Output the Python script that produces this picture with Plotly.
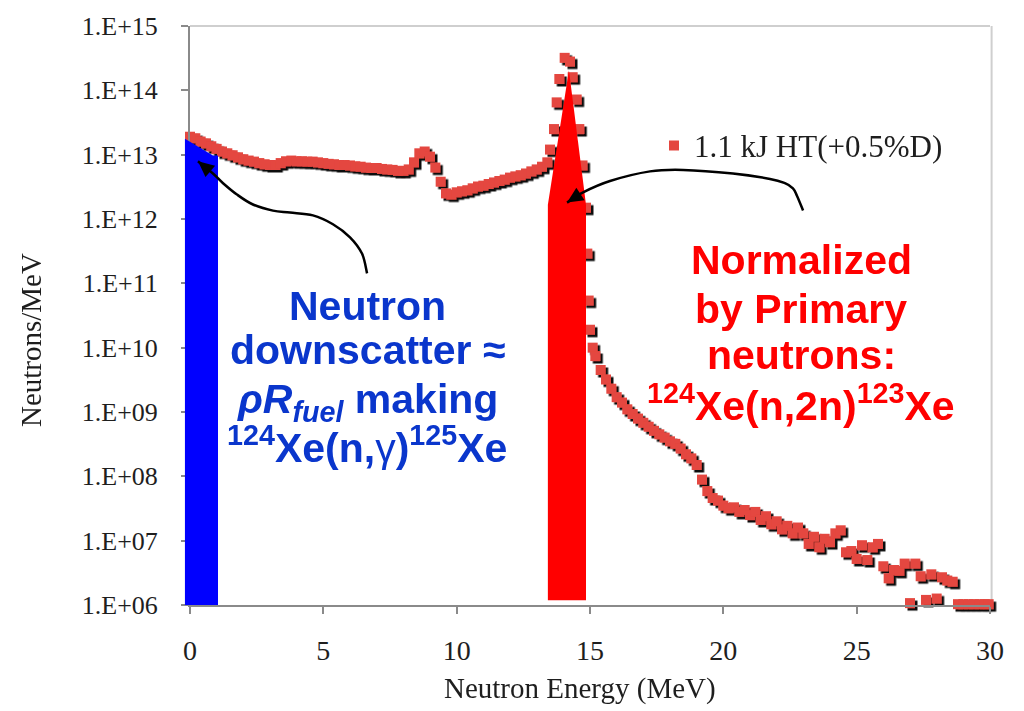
import math
import plotly.graph_objects as go

# Neutron spectrum, 1.1 kJ HT shot with 0.5% D
energy_mev = [
    0.0, 0.2, 0.4, 0.6, 0.8, 1.0, 1.2, 1.4, 1.6, 1.8,
    2.0, 2.2, 2.4, 2.6, 2.8, 3.0, 3.2, 3.4, 3.6, 3.8,
    4.0, 4.2, 4.4, 4.6, 4.8, 5.0, 5.2, 5.4, 5.6, 5.8,
    6.0, 6.2, 6.4, 6.6, 6.8, 7.0, 7.2, 7.4, 7.6, 7.8,
    8.0, 8.2, 8.4, 8.6, 8.8, 9.0, 9.2, 9.4, 9.6, 9.8,
    10.0, 10.2, 10.4, 10.6, 10.8, 11.0, 11.2, 11.4, 11.6, 11.8,
    12.0, 12.2, 12.4, 12.6, 12.8, 13.0, 13.2, 13.4,
    13.5, 13.65, 13.75, 13.85, 14.05, 14.25, 14.35, 14.5, 14.6, 14.72,
    14.85, 14.9, 14.95, 15.0, 15.1,
    15.2, 15.4, 15.6, 15.8, 16.0, 16.2, 16.4, 16.6, 16.8, 17.0,
    17.2, 17.4, 17.6, 17.8, 18.0, 18.2, 18.4, 18.6, 18.8, 19.0,
    19.2, 19.4, 19.6, 19.8, 20.0, 20.2, 20.4, 20.6, 20.8, 21.0,
    21.2, 21.4, 21.6, 21.8, 22.0, 22.2, 22.4, 22.6, 22.8, 23.0,
    23.2, 23.4, 23.6, 23.8, 24.0, 24.2, 24.4, 24.6, 24.8, 25.0,
    25.2, 25.4, 25.6, 25.8, 26.0, 26.2, 26.4, 26.6, 26.8, 27.0,
    27.2, 27.4, 27.6, 27.8, 28.0, 28.2, 28.4, 28.6, 28.8, 29.0,
    29.2, 29.4, 29.6, 29.8, 29.95,
]

neutrons_per_mev = [
    1.9e13, 1.8e13, 1.6e13, 1.5e13, 1.35e13, 1.23e13, 1.12e13, 1.05e13, 9.8e12, 9.1e12,
    8.5e12, 8.1e12, 7.8e12, 7.4e12, 7.1e12, 6.9e12, 6.9e12, 7.4e12, 7.9e12, 8.1e12,
    7.9e12, 7.9e12, 7.8e12, 7.8e12, 7.6e12, 7.4e12, 7.2e12, 7.1e12, 6.9e12, 6.9e12,
    6.8e12, 6.6e12, 6.5e12, 6.3e12, 6.2e12, 6.2e12, 6.0e12, 5.9e12, 5.8e12, 5.6e12,
    5.6e12, 5.9e12, 7.6e12, 1.05e13, 1.12e13, 9.3e12, 6.3e12, 3.8e12, 2.5e12, 2.4e12,
    2.6e12, 2.7e12, 2.8e12, 3.0e12, 3.2e12, 3.3e12, 3.5e12, 3.7e12, 3.9e12, 4.1e12,
    4.4e12, 4.6e12, 4.8e12, 5.1e12, 5.5e12, 5.9e12, 6.5e12, 7.6e12,
    1.2e13, 2.5e13, 6.5e13, 1.5e14, 3.2e14, 2.8e14, 1.6e14, 7.2e13, 2.5e13, 6.8e12,
    1.5e12, 2.9e11, 5.4e10, 1.9e10, 1.0e10,
    7.4e9, 4.5e9, 3.2e9, 2.3e9, 1.7e9, 1.4e9, 1.1e9, 9.3e8, 7.9e8, 6.8e8,
    5.9e8, 5.1e8, 4.5e8, 4.0e8, 3.5e8, 3.2e8, 2.7e8, 2.2e8, 1.9e8, 1.5e8,
    8.9e7, 5.9e7, 4.6e7, 4.2e7, 3.5e7, 3.2e7, 3.3e7, 2.8e7, 3.0e7, 2.5e7,
    2.8e7, 2.1e7, 2.4e7, 1.8e7, 2.0e7, 1.5e7, 1.7e7, 1.3e7, 1.6e7, 1.3e7,
    8.9e6, 1.15e7, 7.9e6, 1.07e7, 9.5e6, 1.3e7, 1.45e7, 6.6e6, 6.9e6, 5.2e6,
    8.5e6, 5.0e6, 7.9e6, 8.9e6, 4.0e6, 2.6e6, 3.5e6, 3.4e6, 4.4e6, 1.07e6,
    4.4e6, 2.8e6, 1.2e6, 3.0e6, 1.26e6, 2.7e6, 2.4e6, 2.3e6, 1.03e6, 1.03e6,
    1.03e6, 1.03e6, 1.03e6, 1.03e6, 1.03e6,
]

series_name = "1.1 kJ HT(+0.5%D)"

x_ticks = [0, 5, 10, 15, 20, 25, 30]
y_ticks = [1e6, 1e7, 1e8, 1e9, 1e10, 1e11, 1e12, 1e13, 1e14, 1e15]
y_tick_text = ["1.E+06", "1.E+07", "1.E+08", "1.E+09", "1.E+10",
               "1.E+11", "1.E+12", "1.E+13", "1.E+14", "1.E+15"]

X_RANGE = (0.0, 30.0)
LOG_Y_RANGE = (6.0, 15.0)

W, H = 1024, 711
M_L, M_R, M_T, M_B = 190, 34, 15, 106
PLOT_W, PLOT_H = W - M_L - M_R, H - M_T - M_B

SERIF = "Liberation Serif, Times New Roman, serif"
SANS = "Liberation Sans, Arial, sans-serif"
AXIS_GREY = "#8a8a8a"
TEXT_DARK = "#1e1e1e"
BLUE_TEXT = "#0a36cc"


def xp(mev):
    """Energy (MeV) -> paper x fraction."""
    return (mev - X_RANGE[0]) / (X_RANGE[1] - X_RANGE[0])


def yp(val):
    """Neutrons/MeV -> paper y fraction on the log axis."""
    return (math.log10(val) - LOG_Y_RANGE[0]) / (LOG_Y_RANGE[1] - LOG_Y_RANGE[0])


def polygon_path(pts):
    return "M " + " L ".join(f"{xp(x):.5f},{yp(y):.5f}" for x, y in pts) + " Z"


def curve_path(pts):
    # Catmull-Rom through the points, written as cubic Bezier segments
    P = [(xp(x), yp(y)) for x, y in pts]
    d = f"M {P[0][0]:.5f},{P[0][1]:.5f}"
    for i in range(len(P) - 1):
        p0 = P[i - 1] if i > 0 else P[i]
        p1, p2 = P[i], P[i + 1]
        p3 = P[i + 2] if i + 2 < len(P) else P[i + 1]
        c1 = (p1[0] + (p2[0] - p0[0]) / 6, p1[1] + (p2[1] - p0[1]) / 6)
        c2 = (p2[0] - (p3[0] - p1[0]) / 6, p2[1] - (p3[1] - p1[1]) / 6)
        d += f" C {c1[0]:.5f},{c1[1]:.5f} {c2[0]:.5f},{c2[1]:.5f} {p2[0]:.5f},{p2[1]:.5f}"
    return d


def head_path(tip, prev, length=16, half_width=7.5):
    # filled triangular arrowhead, sized in pixels, pointing from prev to tip
    tx, ty = xp(tip[0]), yp(tip[1])
    dx = (tx - xp(prev[0])) * PLOT_W
    dy = -(ty - yp(prev[1])) * PLOT_H
    n = math.hypot(dx, dy)
    ux, uy = dx / n, dy / n
    corners = []
    for s in (1, -1):
        ox = -ux * length + s * (-uy) * half_width
        oy = -uy * length + s * ux * half_width
        corners.append((tx + ox / PLOT_W, ty - oy / PLOT_H))
    (ax, ay), (bx, by) = corners
    return f"M {tx:.5f},{ty:.5f} L {ax:.5f},{ay:.5f} L {bx:.5f},{by:.5f} Z"


fig = go.Figure()

fig.add_trace(go.Scatter(
    x=energy_mev,
    y=neutrons_per_mev,
    mode="markers",
    name=series_name,
    marker=dict(symbol="square", size=10, color="#e4463f", line=dict(width=0)),
    cliponaxis=False,
    showlegend=True,
))

# Highlighted energy bands
downscatter_band = [(-0.19, 1e6), (-0.19, 1.76e13), (0.86, 9.7e12), (1.05, 9.7e12), (1.05, 1e6)]
primary_band = [(13.42, 1.19e6), (13.42, 1.67e12), (14.21, 2.06e14), (14.85, 1.67e12), (14.85, 1.19e6)]

# Curved pointer arrows
arrow_down = [(6.64, 1.43e11), (6.45, 2.9e11), (6.0, 5.2e11), (5.36, 8.3e11), (4.61, 1.14e12),
              (3.75, 1.26e12), (3.11, 1.35e12), (2.36, 1.68e12), (1.76, 2.4e12), (1.24, 3.6e12),
              (0.86, 5.1e12)]
arrow_down_tip = (0.30, 7.9e12)
arrow_prim = [(22.99, 1.36e12), (22.76, 2.3e12), (22.61, 3.0e12), (22.31, 3.6e12), (21.75, 4.2e12),
              (20.36, 5.1e12), (18.49, 5.8e12), (17.25, 5.5e12), (15.75, 3.9e12), (14.74, 2.6e12)]
arrow_prim_tip = (14.14, 1.8e12)

shapes = [
    # light frame on top and right
    dict(type="line", xref="paper", yref="paper", x0=0, x1=1, y0=1, y1=1,
         line=dict(color="#cfcfcf", width=2), layer="below"),
    dict(type="line", xref="paper", yref="paper", x0=1.002, x1=1.002, y0=0, y1=1,
         line=dict(color="#cfcfcf", width=2), layer="below"),
    dict(type="path", xref="paper", yref="paper", path=polygon_path(downscatter_band),
         fillcolor="#0000ff", line=dict(width=0), layer="above"),
    dict(type="path", xref="paper", yref="paper", path=polygon_path(primary_band),
         fillcolor="#ff0000", line=dict(width=0), layer="above"),
    dict(type="path", xref="paper", yref="paper", path=curve_path(arrow_down + [arrow_down_tip]),
         line=dict(color="black", width=2.5), layer="above"),
    dict(type="path", xref="paper", yref="paper", path=curve_path(arrow_prim + [arrow_prim_tip]),
         line=dict(color="black", width=2.5), layer="above"),
    dict(type="path", xref="paper", yref="paper", path=head_path(arrow_down_tip, arrow_down[-1]),
         fillcolor="black", line=dict(width=0), layer="above"),
    dict(type="path", xref="paper", yref="paper", path=head_path(arrow_prim_tip, arrow_prim[-1]),
         fillcolor="black", line=dict(width=0), layer="above"),
]

annotations = []


def text_line(txt, xc, ypix, color):
    annotations.append(dict(
        xref="paper", yref="paper", x=xc, y=(H - M_B - ypix) / PLOT_H,
        xanchor="center", yanchor="middle", text=txt, showarrow=False,
        font=dict(family=SANS, size=41, color=color),
    ))


GAMMA = "<span style='font-weight:normal'>γ</span>"
blue_lines = ["<b>Neutron</b>", "<b>downscatter ≈</b>",
              "<b><i>ρR<sub>fuel</sub></i> making</b>",
              "<b><sup>124</sup>Xe(n,</b>" + GAMMA + "<b>)<sup>125</sup>Xe</b>"]
for txt, ypix in zip(blue_lines, [300, 345, 398, 442]):
    text_line(txt, (367 - M_L) / PLOT_W, ypix, BLUE_TEXT)

red_lines = ["<b>Normalized</b>", "<b>by Primary</b>", "<b>neutrons:</b>",
             "<b><sup>124</sup>Xe(n,2n)<sup>123</sup>Xe</b>"]
for txt, ypix in zip(red_lines, [253, 303, 350, 399]):
    text_line(txt, (801 - M_L) / PLOT_W, ypix, "#ff0000")

# axis titles
annotations.append(dict(
    xref="paper", yref="paper", x=(31 - M_L) / PLOT_W, y=(H - M_B - 335) / PLOT_H,
    xanchor="center", yanchor="middle", text="Neutrons/MeV", textangle=-90, showarrow=False,
    font=dict(family=SERIF, size=29, color=TEXT_DARK),
))
annotations.append(dict(
    xref="paper", yref="paper", x=(580 - M_L) / PLOT_W, y=(H - M_B - 690) / PLOT_H,
    xanchor="center", yanchor="middle", text="Neutron Energy (MeV)", showarrow=False,
    font=dict(family=SERIF, size=29, color=TEXT_DARK),
))

fig.update_layout(
    width=W, height=H,
    margin=dict(l=M_L, r=M_R, t=M_T, b=M_B, pad=0),
    paper_bgcolor="white", plot_bgcolor="white",
    showlegend=True,
    legend=dict(x=(654 - M_L) / PLOT_W, y=(H - M_B - 137) / PLOT_H,
                xanchor="left", yanchor="middle", bgcolor="rgba(0,0,0,0)",
                font=dict(family=SERIF, size=31, color=TEXT_DARK)),
    shapes=shapes,
    annotations=annotations,
    xaxis=dict(range=list(X_RANGE), tickvals=x_ticks, ticks="outside", ticklen=7, tickwidth=2,
               tickcolor=AXIS_GREY, showline=True, linecolor=AXIS_GREY, linewidth=2,
               showgrid=False, zeroline=False, ticklabelstandoff=12,
               tickfont=dict(family=SERIF, size=28, color=TEXT_DARK)),
    yaxis=dict(type="log", range=list(LOG_Y_RANGE), tickvals=y_ticks, ticktext=y_tick_text,
               ticks="outside", ticklen=7, tickwidth=2, tickcolor=AXIS_GREY, showline=True,
               linecolor=AXIS_GREY, linewidth=2, showgrid=False, zeroline=False,
               ticklabelstandoff=18, tickfont=dict(family=SERIF, size=26, color=TEXT_DARK)),
)

# Drop shadow under the data markers
shadow_js = """
var gd = document.getElementById('{plot_id}');
var NS = 'http://www.w3.org/2000/svg';
var svg = gd.querySelector('svg.main-svg');
var defs = svg.querySelector('defs');
if (!defs) { defs = document.createElementNS(NS, 'defs'); svg.insertBefore(defs, svg.firstChild); }
var f = document.createElementNS(NS, 'filter');
f.setAttribute('id', 'marker-shadow');
f.setAttribute('x', '-5%'); f.setAttribute('y', '-5%');
f.setAttribute('width', '115%'); f.setAttribute('height', '115%');
var ds = document.createElementNS(NS, 'feDropShadow');
ds.setAttribute('dx', '2.5'); ds.setAttribute('dy', '2.5');
ds.setAttribute('stdDeviation', '0.5');
ds.setAttribute('flood-color', '#000'); ds.setAttribute('flood-opacity', '0.95');
f.appendChild(ds); defs.appendChild(f);
var pts = gd.querySelector('.scatterlayer .trace .points');
if (pts) { pts.setAttribute('filter', 'url(#marker-shadow)'); }
"""

fig.write_html("out.html", post_script=shadow_js)
